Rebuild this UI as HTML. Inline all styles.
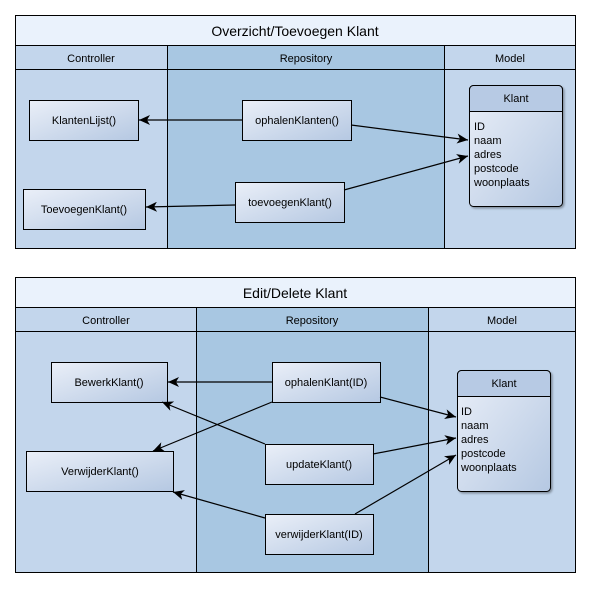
<!DOCTYPE html>
<html><head><style>
body{margin:0;background:#fff;}
svg text{font-family:"Liberation Sans",sans-serif;}
</style></head><body>
<svg width="590" height="588" xmlns="http://www.w3.org/2000/svg">
<defs>
<linearGradient id="g" x1="0" y1="0" x2="1" y2="1">
<stop offset="0" stop-color="#eaeff8"/><stop offset="1" stop-color="#b5c8e2"/></linearGradient>
<marker id="a" markerWidth="12" markerHeight="10" refX="11" refY="5" orient="auto" markerUnits="userSpaceOnUse">
<path d="M0,0 L11,5 L0,10 L3,5 Z" fill="#000"/></marker>
<filter id="s"><feDropShadow dx="1.5" dy="1.5" stdDeviation="1" flood-opacity="0.35"/></filter>
</defs>
<g stroke="#000" stroke-width="1">
<!-- top pool -->
<rect x="15.5" y="15.5" width="560" height="30" fill="#eaf2fc"/>
<rect x="15.5" y="45.5" width="152" height="24" fill="#c3d6ec"/>
<rect x="167.5" y="45.5" width="277" height="24" fill="#a8c7e2"/>
<rect x="444.5" y="45.5" width="131" height="24" fill="#c3d6ec"/>
<rect x="15.5" y="69.5" width="152" height="179" fill="#c3d6ec"/>
<rect x="167.5" y="69.5" width="277" height="179" fill="#a8c7e2"/>
<rect x="444.5" y="69.5" width="131" height="179" fill="#c3d6ec"/>
<!-- bottom pool -->
<rect x="15.5" y="277.5" width="560" height="30" fill="#eaf2fc"/>
<rect x="15.5" y="307.5" width="181" height="24" fill="#c3d6ec"/>
<rect x="196.5" y="307.5" width="232" height="24" fill="#a8c7e2"/>
<rect x="428.5" y="307.5" width="147" height="24" fill="#c3d6ec"/>
<rect x="15.5" y="331.5" width="181" height="241" fill="#c3d6ec"/>
<rect x="196.5" y="331.5" width="232" height="241" fill="#a8c7e2"/>
<rect x="428.5" y="331.5" width="147" height="241" fill="#c3d6ec"/>
<!-- boxes top -->
<rect x="29.5" y="100.5" width="109" height="40" fill="url(#g)"/>
<rect x="242.5" y="100.5" width="109" height="40" fill="url(#g)"/>
<rect x="235.5" y="182.5" width="109" height="40" fill="url(#g)"/>
<rect x="23.5" y="189.5" width="122" height="40" fill="url(#g)"/>
<rect x="469.5" y="85.5" width="93" height="121" rx="4" fill="url(#g)" filter="url(#s)"/>
<path d="M469.5,111.5 V89.5 a4,4 0 0 1 4,-4 H558.5 a4,4 0 0 1 4,4 V111.5 Z" fill="#b7cae4"/>
<!-- boxes bottom -->
<rect x="51.5" y="362.5" width="116" height="40" fill="url(#g)"/>
<rect x="26.5" y="451.5" width="147" height="40" fill="url(#g)"/>
<rect x="272.5" y="362.5" width="108" height="40" fill="url(#g)"/>
<rect x="265.5" y="444.5" width="108" height="40" fill="url(#g)"/>
<rect x="265.5" y="514.5" width="108" height="40" fill="url(#g)"/>
<rect x="457.5" y="370.5" width="93" height="121" rx="4" fill="url(#g)" filter="url(#s)"/>
<path d="M457.5,396.5 V374.5 a4,4 0 0 1 4,-4 H546.5 a4,4 0 0 1 4,4 V396.5 Z" fill="#b7cae4"/>
</g>
<g stroke="#000" stroke-width="1.2" fill="none" marker-end="url(#a)">
<line x1="242" y1="120" x2="139" y2="120"/>
<line x1="351" y1="125" x2="468" y2="140"/>
<line x1="235" y1="205" x2="146" y2="207"/>
<line x1="344" y1="190" x2="468" y2="156"/>
<line x1="272" y1="382" x2="168" y2="382"/>
<line x1="272" y1="402" x2="153" y2="451"/>
<line x1="265" y1="444" x2="162" y2="402"/>
<line x1="265" y1="518" x2="173" y2="492"/>
<line x1="380" y1="397" x2="456" y2="417"/>
<line x1="373" y1="454" x2="456" y2="438"/>
<line x1="355" y1="514" x2="456" y2="455"/>
</g>
<g font-size="11" fill="#000" text-anchor="middle">
<text x="295" y="36" font-size="14">Overzicht/Toevoegen Klant</text>
<text x="91" y="62">Controller</text>
<text x="306" y="62">Repository</text>
<text x="510" y="62">Model</text>
<text x="84" y="124">KlantenLijst()</text>
<text x="297" y="124">ophalenKlanten()</text>
<text x="290" y="206">toevoegenKlant()</text>
<text x="84" y="213">ToevoegenKlant()</text>
<text x="516" y="102">Klant</text>
<text x="295" y="298" font-size="14">Edit/Delete Klant</text>
<text x="106" y="324">Controller</text>
<text x="312" y="324">Repository</text>
<text x="502" y="324">Model</text>
<text x="109" y="386">BewerkKlant()</text>
<text x="100" y="475">VerwijderKlant()</text>
<text x="326" y="386">ophalenKlant(ID)</text>
<text x="319" y="468">updateKlant()</text>
<text x="319" y="538">verwijderKlant(ID)</text>
<text x="504" y="387">Klant</text>
</g>
<g font-size="11" fill="#000">
<text x="474" y="130">ID</text><text x="474" y="144">naam</text><text x="474" y="158">adres</text><text x="474" y="172">postcode</text><text x="474" y="186">woonplaats</text>
<text x="461" y="415">ID</text><text x="461" y="429">naam</text><text x="461" y="443">adres</text><text x="461" y="457">postcode</text><text x="461" y="471">woonplaats</text>
</g>
</svg>
</body></html>
